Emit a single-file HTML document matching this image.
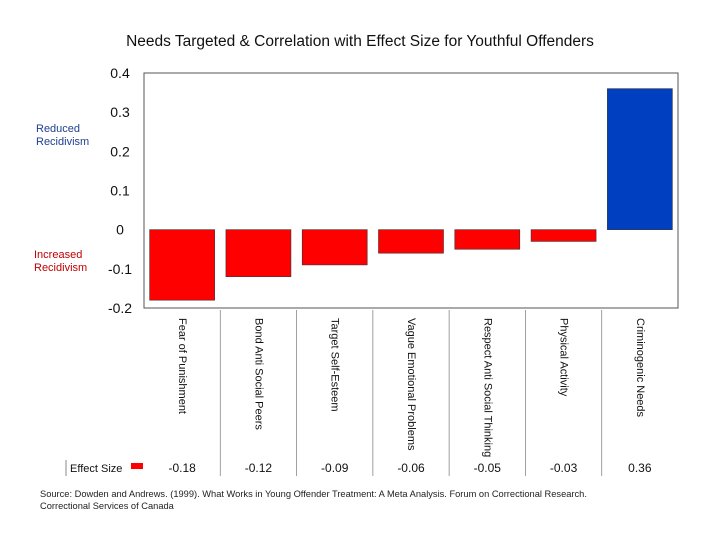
<!DOCTYPE html>
<html><head><meta charset="utf-8"><style>
body{margin:0;background:#fff;}
svg{display:block;font-family:"Liberation Sans",Arial,sans-serif;}
</style></head><body>
<svg id="c" width="720" height="540">
<text x="360" y="46" text-anchor="middle" font-size="15.5" fill="#111">Needs Targeted &amp; Correlation with Effect Size for Youthful Offenders</text>
<rect x="144" y="73" width="534" height="235" fill="none" stroke="#555" stroke-width="1"/>
<text x="36" y="132" font-size="11" fill="#1f3f8f">Reduced</text>
<text x="36" y="145" font-size="11" fill="#1f3f8f">Recidivism</text>
<text x="34" y="258" font-size="11" fill="#c00000">Increased</text>
<text x="34" y="271" font-size="11" fill="#c00000">Recidivism</text>
<g id="yaxis"></g><g id="bars"></g><g id="labels"></g>
<line x1="66" y1="460" x2="66" y2="476" stroke="#888"/>
<text x="70" y="472" font-size="11" fill="#111">Effect Size</text>
<rect x="131" y="463" width="12" height="6" fill="#ff0000"/>
<text x="40" y="497" font-size="9.3" fill="#222">Source: Dowden and Andrews. (1999). What Works in Young Offender Treatment: A Meta Analysis.  Forum on Correctional Research.</text>
<text x="40" y="509" font-size="9.3" fill="#222">Correctional Services of Canada</text>
</svg>
<script>
const categories=["Fear of Punishment","Bond Anti Social Peers","Target Self-Esteem","Vague Emotional Problems","Respect Anti Social Thinking","Physical Activity","Criminogenic Needs"];
const values=[-0.18,-0.12,-0.09,-0.06,-0.05,-0.03,0.36];
const valueLabels=["-0.18","-0.12","-0.09","-0.06","-0.05","-0.03","0.36"];
const ticks=[0.4,0.3,0.2,0.1,0,-0.1,-0.2];
const tickLabels=["0.4","0.3","0.2","0.1","0","-0.1","-0.2"];
const NS="http://www.w3.org/2000/svg";
const x0=144,x1=678,yTop=73,yBot=308,vMax=0.4,vMin=-0.2;
const y=v=>yTop+(vMax-v)/(vMax-vMin)*(yBot-yTop);
const step=(x1-x0)/categories.length;
const xc=i=>x0+step*(i+0.5);
function mk(t,a,p){const e=document.createElementNS(NS,t);for(const k in a)e.setAttribute(k,a[k]);p.appendChild(e);return e;}
const ya=document.getElementById('yaxis');
ticks.forEach((t,i)=>{const e=mk('text',{x:120,y:y(t)+5,'text-anchor':'middle','font-size':14,fill:'#111'},ya);


e.textContent=tickLabels[i];});
const bg=document.getElementById('bars'),lg=document.getElementById('labels');
const bw=65;
values.forEach((v,i)=>{
const top=y(Math.max(v,0)),h=Math.abs(y(v)-y(0));
const r=mk('rect',{x:xc(i)-bw/2,y:top,width:bw,height:h,fill:v<0?'#ff0000':'#0040c0',stroke:'#333','stroke-width':0.6},bg);


const t=mk('text',{transform:`translate(${xc(i)-3},318) rotate(90)`,'font-size':11,fill:'#111'},lg);


t.textContent=categories[i];
const vl=mk('text',{x:xc(i),y:472,'text-anchor':'middle','font-size':12,fill:'#111'},lg);


vl.textContent=valueLabels[i];
if(i>0){const l=mk('line',{x1:x0+step*i,x2:x0+step*i,y1:310,y2:476,stroke:'#888','stroke-width':0.8},lg);

}
});
</script>
</body></html>
